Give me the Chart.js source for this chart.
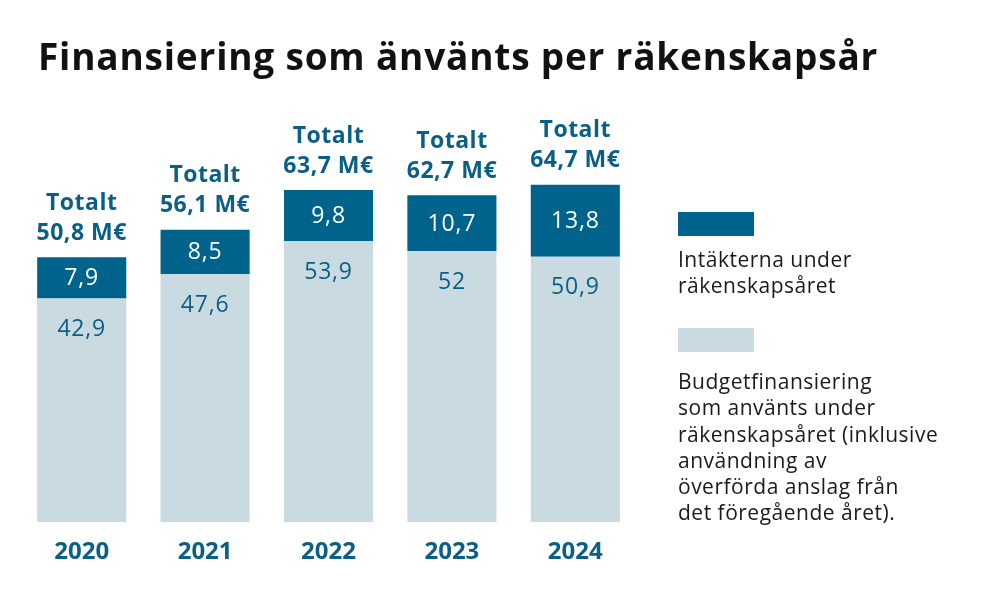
<!DOCTYPE html>
<html><head><meta charset="utf-8">
<script src="https://cdn.jsdelivr.net/npm/chart.js@4"></script>
<style>
html,body{margin:0;padding:0;background:#fff;}
#wrap{position:relative;width:1000px;height:600px;font-family:"Open Sans",Lato,sans-serif;}
#title{position:absolute;left:38px;top:31px;font-size:37px;line-height:50px;font-weight:700;color:#111;white-space:nowrap;letter-spacing:0.8px;}
.sw{position:absolute;left:678px;width:76px;height:24px;}
.lt{position:absolute;left:678px;font-size:21px;line-height:26.3px;color:#1a1a1a;white-space:nowrap;letter-spacing:0.5px;}
canvas{position:absolute;left:0;top:0;}
</style></head>
<body>
<div id="wrap">
<canvas id="c" width="1000" height="600"></canvas>
<div id="title">Finansiering som änvänts per räkenskapsår</div>
<div class="sw" style="top:212px;background:#00638c"></div>
<div class="lt" style="top:246px">Intäkterna under<br>räkenskapsåret</div>
<div class="sw" style="top:328px;background:#c9dae1"></div>
<div class="lt" style="top:368px">Budgetfinansiering<br>som använts under<br>räkenskapsåret (inklusive<br>användning av<br>överförda anslag från<br>det föregående året).</div>
</div>
<script>
const years = ['2020','2021','2022','2023','2024'];
const budget = [42.9, 47.6, 53.9, 52, 50.9];
const income = [7.9, 8.5, 9.8, 10.7, 13.8];
const totals = [50.8, 56.1, 63.7, 62.7, 64.7];

const DARK = '#00638c', LIGHT = '#c9dae1', TXT = '#0a5f87';
const FONT = '"Open Sans", Lato, sans-serif';
const fmt = v => String(v).replace('.', ',');

const labelPlugin = {
  id: 'labels',
  afterDatasetsDraw(chart) {
    const ctx = chart.ctx;
    const m0 = chart.getDatasetMeta(0), m1 = chart.getDatasetMeta(1);
    ctx.save();
    ctx.textAlign = 'center';
    ctx.textBaseline = 'middle';
    years.forEach((y, i) => {
      const b = m0.data[i], d = m1.data[i];
      ctx.letterSpacing = '0.8px';
      ctx.font = '400 23px ' + FONT;
      ctx.fillStyle = TXT;
      ctx.fillText(fmt(budget[i]), b.x, b.y + 31);
      ctx.fillStyle = '#ffffff';
      ctx.fillText(fmt(income[i]), d.x, (d.y + d.base) / 2 + 1);
      ctx.letterSpacing = '0.5px';
      ctx.font = '700 23px ' + FONT;
      ctx.fillStyle = TXT;
      ctx.fillText('Totalt', d.x, d.y - 54);
      ctx.fillText(fmt(totals[i]) + ' M€', d.x, d.y - 24);
    });
    ctx.restore();
  }
};

new Chart(document.getElementById('c'), {
  type: 'bar',
  data: {
    labels: years,
    datasets: [
      { label: 'Budgetfinansiering', data: budget, backgroundColor: LIGHT, borderWidth: 0 },
      { label: 'Intäkterna', data: income, backgroundColor: DARK, borderWidth: 0 }
    ]
  },
  options: {
    responsive: false,
    animation: false,
    layout: { padding: { left: 20, right: 363, top: 105, bottom: 25 } },
    datasets: { bar: { categoryPercentage: 1, barPercentage: 0.722 } },
    plugins: { legend: { display: false }, tooltip: { enabled: false }, title: { display: false } },
    scales: {
      x: {
        stacked: true,
        grid: { display: false },
        border: { display: false },
        ticks: { color: TXT, padding: 8, font: { family: FONT, size: 24, weight: '700' } }
      },
      y: { stacked: true, display: false, min: 0, max: 80 }
    }
  },
  plugins: [labelPlugin]
});
</script>
</body></html>
